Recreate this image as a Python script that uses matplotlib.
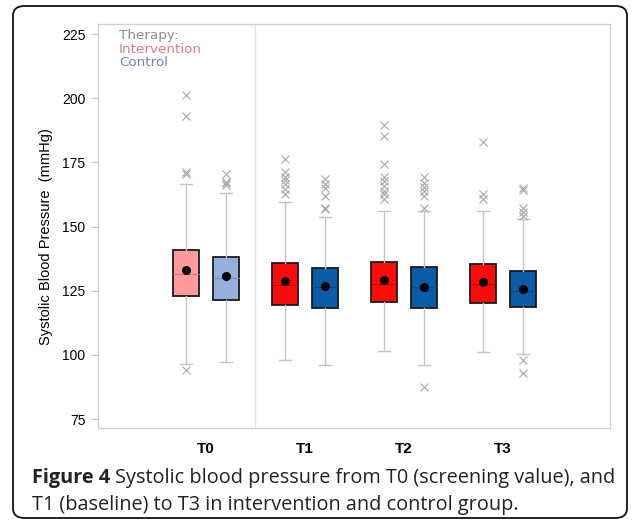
import matplotlib
matplotlib.use("Agg")
import matplotlib.pyplot as plt
from matplotlib.patches import FancyBboxPatch

# ── Data (mmHg) ─────────────────────────────────────────────────────────
groups = ["T0", "T1", "T2", "T3"]

int_q1 = [122.9, 119.3, 120.7, 120.1]
int_med = [131.5, 127.2, 127.7, 127.7]
int_q3 = [141.0, 135.9, 136.3, 135.4]
int_mean = [133.0, 128.8, 129.2, 128.5]
int_lo = [96.5, 98.0, 101.5, 101.0]
int_hi = [166.4, 159.6, 156.1, 156.0]
int_fliers = [
    [94.2, 170.6, 171.4, 193.1, 201.4],
    [162.6, 164.6, 166.6, 168.1, 169.4, 171.1, 176.4],
    [160.7, 162.6, 163.9, 165.9, 167.6, 169.4, 174.3, 185.3, 189.6],
    [160.9, 162.6, 182.8],
]

ctl_q1 = [121.5, 118.4, 118.3, 118.5]
ctl_med = [129.9, 126.6, 126.3, 124.9]
ctl_q3 = [138.2, 133.8, 134.1, 132.7]
ctl_mean = [130.7, 126.8, 126.6, 125.8]
ctl_lo = [97.3, 96.1, 96.1, 100.4]
ctl_hi = [163.0, 153.8, 155.9, 152.9]
ctl_fliers = [
    [166.1, 166.8, 167.3, 170.4],
    [156.8, 157.4, 161.9, 165.1, 166.7, 168.4],
    [87.4, 157.4, 162.0, 163.9, 165.2, 166.8, 169.4],
    [92.8, 97.8, 154.2, 155.8, 157.2, 164.2, 165.0],
]

int_colors = ["#ff9a9a", "#ff0a0a", "#ff0a0a", "#ff0a0a"]
ctl_colors = ["#94b0dc", "#0b5ca6", "#0b5ca6", "#0b5ca6"]
int_med_colors = ["#d87878", "#c00000", "#c00000", "#c00000"]
ctl_med_colors = ["#7690b8", "#084a88", "#084a88", "#084a88"]


def make_stats(q1, med, q3, mean, lo, hi, fliers):
    return [dict(q1=q1[i], med=med[i], q3=q3[i], mean=mean[i],
                 whislo=lo[i], whishi=hi[i], fliers=fliers[i])
            for i in range(len(q1))]


fig = plt.figure(figsize=(6.37, 5.24), dpi=100)
fig.patch.set_facecolor("white")

# rounded frame around the whole figure
frame = FancyBboxPatch((13 / 637, 6 / 524), 614 / 637, 512 / 524,
                       boxstyle="round,pad=0,rounding_size=0.018",
                       transform=fig.transFigure, fill=False,
                       edgecolor="#111111", linewidth=1.3)
fig.add_artist(frame)

ax = fig.add_axes([98 / 637, 1 - 428 / 524, 512 / 637, 404 / 524])

gray = "#c4c4c4"
for stats, offs, fcs, mcs in [
        (make_stats(int_q1, int_med, int_q3, int_mean, int_lo, int_hi, int_fliers), -0.2, int_colors, int_med_colors),
        (make_stats(ctl_q1, ctl_med, ctl_q3, ctl_mean, ctl_lo, ctl_hi, ctl_fliers), 0.2, ctl_colors, ctl_med_colors)]:
    pos = [i + offs for i in range(len(groups))]
    bp = ax.bxp(stats, positions=pos, widths=0.26, patch_artist=True,
                showmeans=True, showfliers=True,
                boxprops=dict(edgecolor="#1a1a1a", linewidth=1.3),
                whiskerprops=dict(color=gray, linewidth=1.0),
                capprops=dict(color=gray, linewidth=1.0),
                capwidths=0.12,
                meanprops=dict(marker="o", markerfacecolor="black",
                               markeredgecolor="black", markersize=5.5),
                flierprops=dict(marker="x", markeredgecolor="#a8a8a8",
                                markersize=5.5, markeredgewidth=0.8),
                zorder=3)
    for patch, fc in zip(bp["boxes"], fcs):
        patch.set_facecolor(fc)
    for line, mc in zip(bp["medians"], mcs):
        line.set_color(mc)
        line.set_linewidth(0.8)

ax.axvline(0.5, color="#e2e2e2", linewidth=0.9, zorder=1)

ax.set_xlim(-1.09, 4.08)
ax.set_ylim(71.5, 228.9)
ax.set_yticks([75, 100, 125, 150, 175, 200, 225])
ax.set_xticks(range(len(groups)))
ax.set_xticklabels(groups, fontsize=11, fontweight="bold", family="Liberation Sans")
ax.tick_params(axis="x", length=0, pad=10)
ax.tick_params(axis="y", length=5, color=gray, pad=4, labelsize=10)
for lab in ax.get_yticklabels():
    lab.set_family("Liberation Sans")
for sp in ax.spines.values():
    sp.set_color("#d0d0d0")
    sp.set_linewidth(0.9)

ax.set_ylabel("Systolic Blood Pressure  (mmHg)", fontsize=10.5,
              family="Liberation Sans")
ax.yaxis.set_label_coords(-0.087, 0.475)

# legend text in the top-left corner
leg_font = dict(fontsize=9.7, family="DejaVu Sans", transform=ax.transAxes,
                va="baseline", ha="left")
ax.text(0.041, 0.963, "Therapy:", color="#8c8c8c", **leg_font)
ax.text(0.041, 0.929, "Intervention", color="#e07a86", **leg_font)
ax.text(0.041, 0.896, "Control", color="#7282c0", **leg_font)

# caption
cap_font = dict(fontsize=14.3, family="Open Sans", color="#222222", va="baseline")
t1 = fig.text(32 / 637, 1 - 483 / 524, "Figure 4", fontweight="bold", **cap_font)
fig.canvas.draw()
bb = t1.get_window_extent()
fig.text((bb.x1 + 5) / fig.bbox.width, 1 - 483 / 524,
         "Systolic blood pressure from T0 (screening value), and", **cap_font)
fig.text(32 / 637, 1 - 510 / 524,
         "T1 (baseline) to T3 in intervention and control group.", **cap_font)

fig.savefig("out.png", dpi=100, facecolor="white")
